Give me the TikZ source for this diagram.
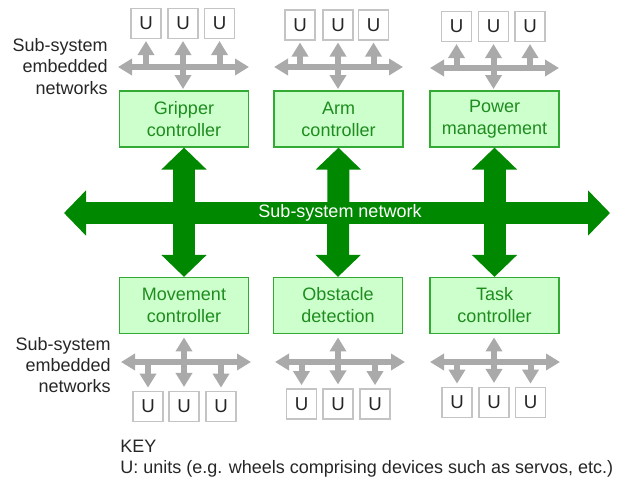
\documentclass[tikz,border=0pt]{standalone}
\usepackage{fontspec}
\setmainfont{Liberation Sans}
\usetikzlibrary{arrows.meta}
\definecolor{boxfill}{HTML}{CCFFCC}
\definecolor{boxline}{HTML}{33AA33}
\definecolor{boxtext}{HTML}{1E8C1E}
\definecolor{netgreen}{HTML}{008800}
\definecolor{subgray}{HTML}{AAAAAA}
\definecolor{unitline}{HTML}{C4C4C4}
\tikzset{
  ctrl/.style={draw=boxline,fill=boxfill,text=boxtext,line width=0.9pt,minimum width=96.75pt,minimum height=42pt,align=center,inner sep=0pt,font=\fontsize{13.5}{16.5}\selectfont},
  unit/.style={draw=unitline,fill=white,line width=0.8pt,minimum width=22.5pt,minimum height=22.5pt,inner sep=0pt,text=black!85,font=\fontsize{14}{16}\selectfont},
  subnet/.style={draw=subgray,line width=4.5pt,{Triangle[width=12pt,length=10.5pt]}-{Triangle[width=12pt,length=10.5pt]}},
  subdrop/.style={draw=subgray,line width=4.5pt,-{Triangle[width=12pt,length=10.5pt]}},
  mainnet/.style={draw=netgreen,line width=16.5pt,{Triangle[width=33pt,length=16.5pt]}-{Triangle[width=33pt,length=16.5pt]}},
  sidetext/.style={align=right,anchor=east,inner sep=0pt,text=black!85,font=\fontsize{13.5}{16}\selectfont}
}
\begin{document}
\begin{tikzpicture}[x=0.75pt,y=0.75pt,yscale=-1,xscale=1]
        \useasboundingbox (0,0) rectangle (630,481);

        %Shape: Controllers
        \node [ctrl] (gripper) at (184,119) {Gripper\\controller};
        \node [ctrl] (arm) at (338.5,119) {Arm\\controller};
        \node [ctrl] (power) at (494.5,119) {Power\\management};
        \node [ctrl] (movement) at (184,305.5) {Movement\\controller};
        \node [ctrl] (obstacle) at (338,305.5) {Obstacle\\detection};
        \node [ctrl] (task) at (494.5,305.5) {Task\\controller};

        %Shape: Units, top row
        \node [unit] (g1) at (146,23.5) {U};
        \node [unit] (g2) at (183,23.5) {U};
        \node [unit] (g3) at (219.5,23.5) {U};
        \node [unit] (a1) at (300,25) {U};
        \node [unit] (a2) at (338,25) {U};
        \node [unit] (a3) at (373.5,25) {U};
        \node [unit] (p1) at (456.5,26.5) {U};
        \node [unit] (p2) at (493.5,26.5) {U};
        \node [unit] (p3) at (530,26.5) {U};
        %Shape: Units, bottom row
        \node [unit] (m1) at (148,406.5) {U};
        \node [unit] (m2) at (184,406.5) {U};
        \node [unit] (m3) at (221,406.5) {U};
        \node [unit] (o1) at (301.5,404) {U};
        \node [unit] (o2) at (338,404) {U};
        \node [unit] (o3) at (375,404) {U};
        \node [unit] (t1) at (457,402.5) {U};
        \node [unit] (t2) at (494,402.5) {U};
        \node [unit] (t3) at (530.5,402.5) {U};

        %Straight Lines: embedded networks, top
        \coordinate (gl) at (118,67); \coordinate (gr) at (249,67);
        \coordinate (al) at (274,67); \coordinate (ar) at (403,67);
        \coordinate (pl) at (430,68); \coordinate (pr) at (559,68);
        \draw [subnet] (gl) -- (gr);
        \draw [subnet] (al) -- (ar);
        \draw [subnet] (pl) -- (pr);
        \draw [subnet,shorten <=1.5pt,shorten >=1pt] (g2.south) -- (g2.south |- gripper.north);
        \draw [subnet,shorten <=1.5pt,shorten >=1pt] (a2.south) -- (a2.south |- arm.north);
        \draw [subnet,shorten <=1.5pt,shorten >=1pt] (p2.south) -- (p2.south |- power.north);
        \draw [subdrop,shorten >=1.5pt] (g1.south |- gl) -- (g1.south);
        \draw [subdrop,shorten >=1.5pt] (g3.south |- gl) -- (g3.south);
        \draw [subdrop,shorten >=1.5pt] (a1.south |- al) -- (a1.south);
        \draw [subdrop,shorten >=1.5pt] (a3.south |- al) -- (a3.south);
        \draw [subdrop,shorten >=1.5pt] (p1.south |- pl) -- (p1.south);
        \draw [subdrop,shorten >=1.5pt] (p3.south |- pl) -- (p3.south);

        %Straight Lines: embedded networks, bottom
        \coordinate (ml) at (121,362); \coordinate (mr) at (251,362);
        \coordinate (ol) at (275,362); \coordinate (or) at (405,362);
        \coordinate (tl) at (430,362); \coordinate (tr) at (560,362);
        \draw [subnet] (ml) -- (mr);
        \draw [subnet] (ol) -- (or);
        \draw [subnet] (tl) -- (tr);
        \draw [subnet,shorten <=3pt,shorten >=2.5pt] (m2.north) -- (m2.north |- movement.south);
        \draw [subnet,shorten <=3pt,shorten >=2.5pt] (o2.north) -- (o2.north |- obstacle.south);
        \draw [subnet,shorten <=3pt,shorten >=2.5pt] (t2.north) -- (t2.north |- task.south);
        \draw [subdrop,shorten >=2.5pt] (m1.north |- ml) -- (m1.north);
        \draw [subdrop,shorten >=2.5pt] (m3.north |- ml) -- (m3.north);
        \draw [subdrop,shorten >=2.5pt] (o1.north |- ol) -- (o1.north);
        \draw [subdrop,shorten >=2.5pt] (o3.north |- ol) -- (o3.north);
        \draw [subdrop,shorten >=2.5pt] (t1.north |- tl) -- (t1.north);
        \draw [subdrop,shorten >=2.5pt] (t3.north |- tl) -- (t3.north);

        %Straight Lines: sub-system network
        \coordinate (netl) at (64,213); \coordinate (netr) at (610,213);
        \draw [mainnet] (netl) -- (netr);
        \draw [mainnet] (gripper.south) -- (movement.north);
        \draw [mainnet] (arm.south) -- (obstacle.north);
        \draw [mainnet] (power.south) -- (task.north);

        % Text Node
        \node [text=white,inner sep=0pt,font=\fontsize{13.5}{16}\selectfont] (net) at (340,213) {Sub-system network};
        % Text Node
        \node [sidetext] (toplabel) at (108,66.5) {Sub-system\\embedded\\networks};
        % Text Node
        \node [sidetext] (botlabel) at (111,365) {Sub-system\\embedded\\networks};
        % Text Node
        \node [anchor=west,align=left,inner sep=0pt,text=black!85,font=\fontsize{13.5}{15.75}\selectfont] (key) at (120,458.5) {KEY\\U: units (e.g. wheels comprising devices such as servos, etc.)};
\end{tikzpicture}
\end{document}
